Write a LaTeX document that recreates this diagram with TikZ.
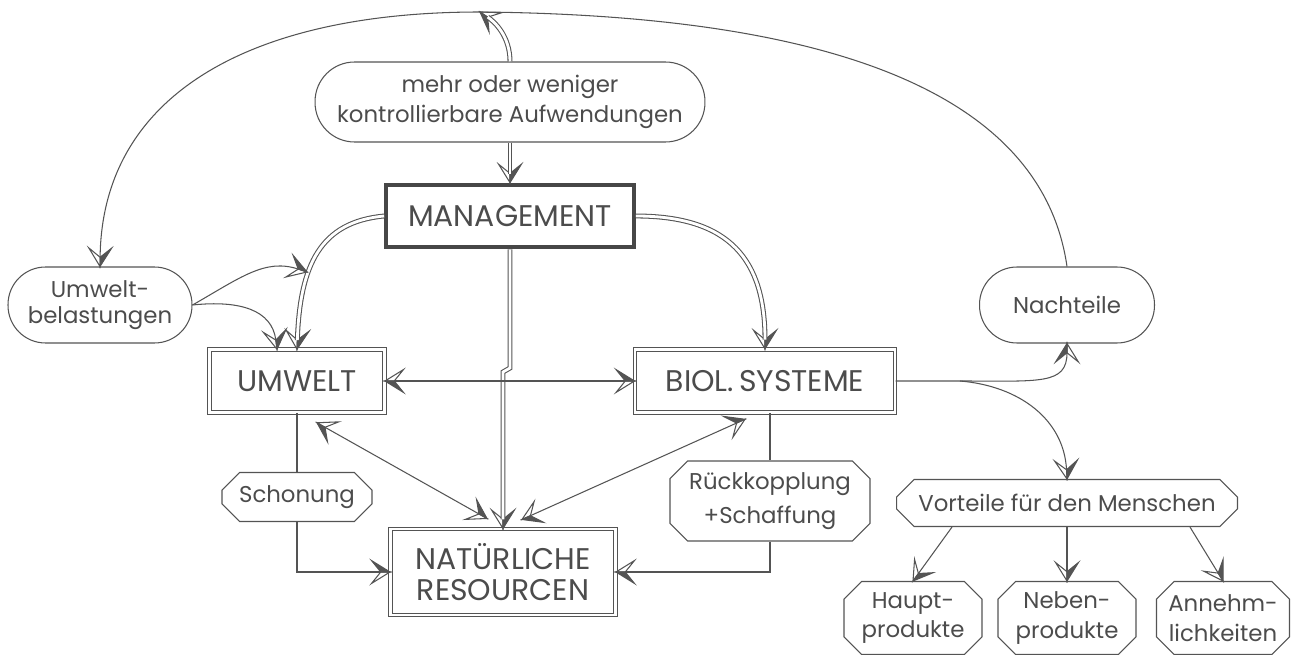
\documentclass[tikz,border=0pt]{standalone}
\usepackage{fontspec}
\setmainfont{Poppins}
\usetikzlibrary{shapes.misc,arrows.meta}
\definecolor{lc}{gray}{0.33}
\definecolor{tc}{gray}{0.30}
\pgfdeclarearrow{
  name = HA,
  parameters = {\the\pgfarrowlength,\the\pgfarrowwidth},
  setup code = {
    \pgfarrowssettipend{0pt}
    \pgfarrowssetlineend{-0.5\pgfarrowlength}
    \pgfarrowssetbackend{-\pgfarrowlength}
    \pgfarrowssetvisualbackend{-0.5\pgfarrowlength}
    \pgfarrowshullpoint{0pt}{0pt}
    \pgfarrowshullpoint{-\pgfarrowlength}{0.5\pgfarrowwidth}
    \pgfarrowshullpoint{-\pgfarrowlength}{-0.5\pgfarrowwidth}
    \pgfarrowssavethe\pgfarrowlength
    \pgfarrowssavethe\pgfarrowwidth
  },
  drawing code = {
    \pgfsetdash{}{0pt}
    \pgfsetmiterjoin
    \pgfpathmoveto{\pgfpointorigin}
    \pgfpathlineto{\pgfqpoint{-\pgfarrowlength}{.5\pgfarrowwidth}}
    \pgfpathlineto{\pgfqpoint{-.5\pgfarrowlength}{0pt}}
    \pgfpathclose
    \pgfusepathqfillstroke
    \pgfpathmoveto{\pgfpointorigin}
    \pgfpathlineto{\pgfqpoint{-\pgfarrowlength}{-.5\pgfarrowwidth}}
    \pgfpathlineto{\pgfqpoint{-.5\pgfarrowlength}{0pt}}
    \pgfpathclose
    \pgfusepathqstroke
  },
  defaults = { length = 10.5pt, width = 13pt }
}
\begin{document}
\begin{tikzpicture}[x=0.02cm,y=-0.02cm,
  box/.style={draw=lc, line width=0.6pt, fill=white, text=tc, align=center, inner sep=0pt},
  dbox/.style={box, double=white, double distance=1.6pt},
  mbox/.style={box, line width=2.4pt, draw=black!72},
  pill/.style={box, rectangle},
  cham/.style={box, chamfered rectangle, chamfered rectangle xsep=5pt, chamfered rectangle ysep=5pt},
  capf/.style={font=\fontsize{17}{20}\selectfont},
  lowf/.style={font=\fontsize{13}{17}\selectfont},
  conn/.style={draw=lc, line width=0.6pt},
  arr/.style={conn, -{HA}},
  barr/.style={conn, {HA}-{HA}},
  dbl/.style={conn, -{HA}, postaction={draw=lc, line width=0.6pt, double=white, double distance=1.6pt, arrows=-, shorten >=5.2pt}}
]
\useasboundingbox (0,0) rectangle (1292,655);

% nodes
\node[pill, lowf, rounded corners=0.79cm, minimum width=7.8cm, minimum height=1.6cm] (mehr) at (510,102) {mehr oder weniger\\kontrollierbare Aufwendungen};
\node[mbox, capf, minimum width=4.95cm, minimum height=1.25cm] (mgmt) at (510,216) {MANAGEMENT};
\node[pill, lowf, rounded corners=0.75cm, minimum width=3.68cm, minimum height=1.52cm, font=\fontsize{13}{15}\selectfont] (ub) at (100,305) {Umwelt-\\belastungen};
\node[dbox, capf, minimum width=3.5cm, minimum height=1.25cm] (umw) at (297,381) {UMWELT};
\node[dbox, capf, minimum width=5.2cm, minimum height=1.27cm] (bio) at (765,381) {BIOL.\,SYSTEME};
\node[pill, lowf, rounded corners=0.75cm, minimum width=3.5cm, minimum height=1.52cm] (nach) at (1067,305) {Nachteile};
\node[dbox, capf, minimum width=4.5cm, minimum height=1.72cm, font=\fontsize{17}{18}\selectfont] (nat) at (503,572) {NATÜRLICHE\\RESOURCEN};
\node[cham, lowf, minimum width=3.0cm, minimum height=0.98cm] (scho) at (297,497) {Schonung};
\node[cham, lowf, minimum width=4.0cm, minimum height=1.6cm, font=\fontsize{13}{19}\selectfont] (rueck) at (770,501) {Rückkopplung\\+Schaffung};
\node[cham, lowf, minimum width=6.82cm, minimum height=0.94cm] (vort) at (1067,503) {Vorteile für den Menschen};
\node[cham, lowf, minimum width=2.76cm, minimum height=1.46cm] (haupt) at (913,618) {Haupt-\\produkte};
\node[cham, lowf, minimum width=2.76cm, minimum height=1.46cm] (neben) at (1067,618) {Neben-\\produkte};
\node[cham, lowf, minimum width=2.66cm, minimum height=1.46cm] (annehm) at (1223,618) {Annehm-\\lichkeiten};

% coordinates
\coordinate (top) at (480,12);
\coordinate (ubt) at (307,272);
\coordinate (j1) at (510,368);
\coordinate (j2) at (503,372);
\coordinate (bsplit) at (960,381);

% connectors
\draw[dbl] (mehr.south) -- (mgmt.north);
\draw[dbl] (mehr.north) .. controls +(0,-25) and (495,22) .. (top);
\draw[arr] (nach.north) .. controls (1040,80) and (800,15) .. (top) .. controls (250,12) and (102,95) .. (ub.north);
\draw[dbl] (mgmt.west) .. controls (320,222) and (300,265) .. (umw.north);
\draw[dbl] (mgmt.east) .. controls (730,216) and (765,260) .. (bio.north);
\draw[dbl] (mgmt.south) -- (j1) -- (j2) -- (nat.north);
\draw[barr] (umw.east) -- (bio.west);
\draw[arr] (ub.east) .. controls (240,278) and (265,258) .. (ubt);
\draw[arr] (ub.east) .. controls (240,300) and (272,310) .. ([xshift=-0.4cm]umw.north);
\draw[barr] ([xshift=0.4cm,yshift=-0.2cm]umw.south) -- ([xshift=-0.32cm,yshift=0.2cm]nat.north);
\draw[barr] ([xshift=-0.4cm,yshift=-0.12cm]bio.south) -- ([xshift=0.38cm,yshift=0.18cm]nat.north);
\draw[conn] (umw.south -| scho.north) -- (scho.north);
\draw[arr] (scho.south) |- (nat.west);
\draw[conn] (bio.south -| rueck.north) -- (rueck.north);
\draw[arr] (rueck.south) |- (nat.east);
\draw[arr] (bio.east) -- (bsplit) .. controls (1040,381) and (1067,385) .. (nach.south);
\draw[arr] (bsplit) .. controls (1020,386) and (1064,420) .. (vort.north);
\draw[arr] ([xshift=-2.3cm]vort.south) -- (haupt.north);
\draw[arr] (vort.south) -- (neben.north);
\draw[arr] ([xshift=2.46cm]vort.south) -- (annehm.north);
\end{tikzpicture}
\end{document}
